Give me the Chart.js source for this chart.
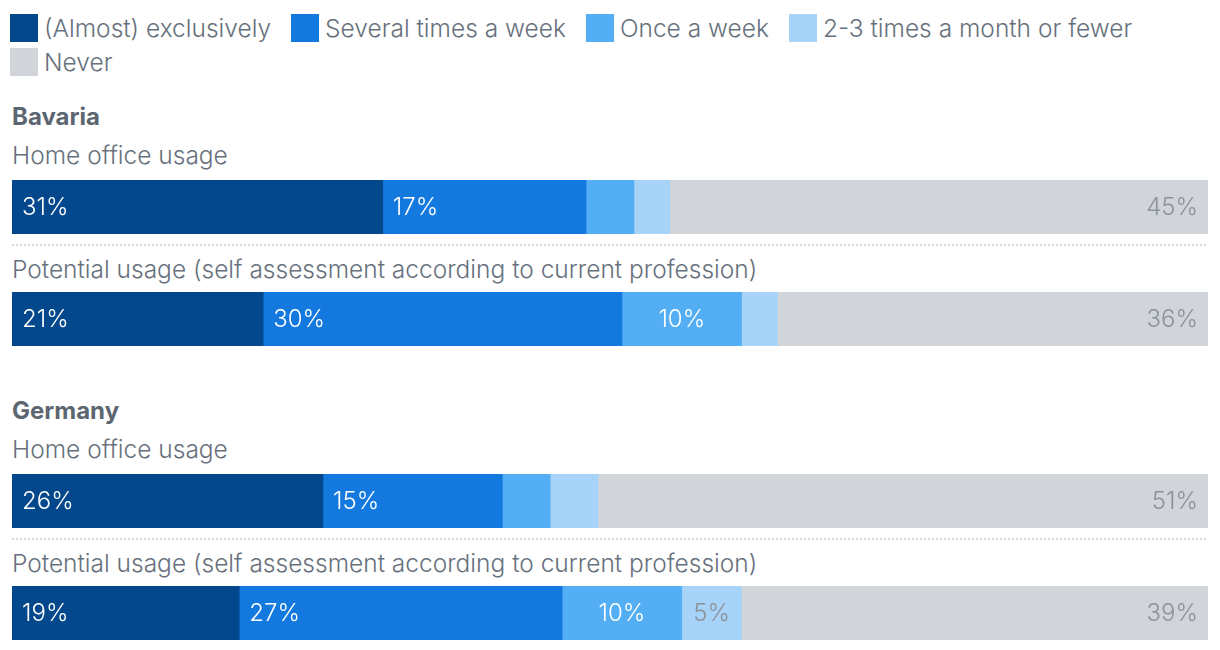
<!doctype html>
<html>
<head>
    <meta charset="UTF-8"/>
    <title>Home office usage</title>
    <script src="https://cdn.jsdelivr.net/npm/chart.js"></script>
    <style type="text/css">
        body{
            margin:0;
            background:#ffffff;
            font-family:Inter, "Noto Sans", sans-serif;
            color:#67717d;
        }
        .page{
            position:relative;
            width:1220px;
            height:650px;
        }
        .legend{
            position:absolute;
            left:10px;
            top:14px;
            width:1180px;
            display:flex;
            flex-wrap:wrap;
            column-gap:20px;
            row-gap:6px;
        }
        .legend .item{
            display:flex;
            align-items:center;
            height:28px;
            font-size:24.5px;
            font-weight:300;
            white-space:nowrap;
        }
        .legend .box{
            width:28px;
            height:28px;
            margin-right:6px;
        }
        .txt{
            position:absolute;
            left:12px;
            height:30px;
            line-height:30px;
            white-space:nowrap;
        }
        .group{
            font-size:24px;
            font-weight:700;
            color:#5c6670;
        }
        .sub{
            font-size:24.5px;
            font-weight:300;
        }
        .bar{
            position:absolute;
            left:12px;
        }
        .dots{
            position:absolute;
            left:12px;
            width:1196px;
            height:2px;
            background:repeating-linear-gradient(to right, #d6dadd 0 2px, transparent 2px 4px);
        }
    </style>
</head>
<body>
    <div class="page">
        <div class="legend" id="legend"></div>

        <div class="txt group" style="top:102px">Bavaria</div>
        <div class="txt sub" style="top:140px">Home office usage</div>
        <canvas class="bar" id="bavariaHome" width="1196" height="54" style="top:180px"></canvas>
        <div class="dots" style="top:244px"></div>
        <div class="txt sub" style="top:254px">Potential usage (self assessment according to current profession)</div>
        <canvas class="bar" id="bavariaPotential" width="1196" height="54" style="top:292px"></canvas>

        <div class="txt group" style="top:396px">Germany</div>
        <div class="txt sub" style="top:434px">Home office usage</div>
        <canvas class="bar" id="germanyHome" width="1196" height="54" style="top:474px"></canvas>
        <div class="dots" style="top:538px"></div>
        <div class="txt sub" style="top:548px">Potential usage (self assessment according to current profession)</div>
        <canvas class="bar" id="germanyPotential" width="1196" height="54" style="top:586px"></canvas>
    </div>

    <script>
        const categories = ['(Almost) exclusively', 'Several times a week', 'Once a week', '2-3 times a month or fewer', 'Never'];

        // shares in percent, same order as categories
        const bavariaHome = [31, 17, 4, 3, 45];
        const bavariaPotential = [21, 30, 10, 3, 36];
        const germanyHome = [26, 15, 4, 4, 51];
        const germanyPotential = [19, 27, 10, 5, 39];

        const colors = ['#03488c', '#1479de', '#53aef4', '#a6d3f7', '#d1d5d9'];
        const labelColors = ['#ffffff', '#ffffff', '#ffffff', '#8a929c', '#8a929c'];
        const labelAlign = ['left', 'left', 'center', 'center', 'right'];

        // html legend
        const legendEl = document.getElementById('legend');
        categories.forEach((cat, i) => {
            const item = document.createElement('div');
            item.className = 'item';
            const box = document.createElement('span');
            box.className = 'box';
            box.style.background = colors[i];
            item.appendChild(box);
            item.appendChild(document.createTextNode(cat));
            legendEl.appendChild(item);
        });

        const valueLabels = {
            id: 'valueLabels',
            afterDatasetsDraw(chart) {
                const ctx = chart.ctx;
                ctx.save();
                ctx.font = '300 24px Inter, "Noto Sans", sans-serif';
                ctx.textBaseline = 'middle';
                chart.data.datasets.forEach((ds, i) => {
                    const v = ds.data[0];
                    if (v < 5) return;
                    const el = chart.getDatasetMeta(i).data[0];
                    const left = Math.min(el.base, el.x);
                    const right = Math.max(el.base, el.x);
                    let x;
                    ctx.textAlign = labelAlign[i];
                    if (labelAlign[i] === 'left') x = left + 10;
                    else if (labelAlign[i] === 'right') x = right - 10;
                    else x = (left + right) / 2;
                    ctx.fillStyle = labelColors[i];
                    ctx.fillText(v + '%', x, el.y + 1);
                });
                ctx.restore();
            }
        };

        function makeBar(id, values) {
            return new Chart(document.getElementById(id), {
                type: 'bar',
                data: {
                    labels: [''],
                    datasets: categories.map((cat, i) => ({
                        label: cat,
                        data: [values[i]],
                        backgroundColor: colors[i],
                        borderWidth: 0,
                        barPercentage: 1,
                        categoryPercentage: 1
                    }))
                },
                options: {
                    indexAxis: 'y',
                    responsive: false,
                    animation: false,
                    layout: { padding: 0 },
                    plugins: {
                        legend: { display: false },
                        tooltip: { enabled: false }
                    },
                    scales: {
                        x: { stacked: true, min: 0, max: 100, display: false },
                        y: { stacked: true, display: false }
                    }
                },
                plugins: [valueLabels]
            });
        }

        makeBar('bavariaHome', bavariaHome);
        makeBar('bavariaPotential', bavariaPotential);
        makeBar('germanyHome', germanyHome);
        makeBar('germanyPotential', germanyPotential);
    </script>
</body>
</html>
